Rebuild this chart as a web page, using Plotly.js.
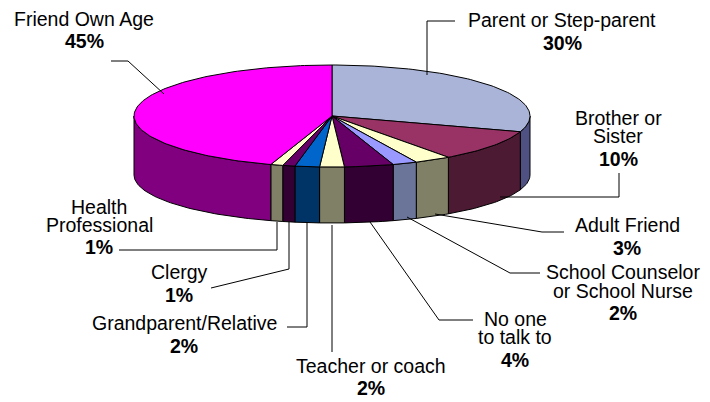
<!DOCTYPE html>
<html>
<head>
<meta charset="utf-8">
<script src="https://cdn.plot.ly/plotly-3.0.1.min.js"></script>
<style>html,body{margin:0;padding:0;background:#fff;}#chart{width:710px;height:402px;}</style>
</head>
<body>
<div id="chart"></div>
<script>
// ---- data ----
const labels = ["Parent or Step-parent", "Brother or Sister", "Adult Friend", "School Counselor or School Nurse", "No one to talk to", "Teacher or coach", "Grandparent/Relative", "Clergy", "Health Professional", "Friend Own Age"];
const values = [30, 10, 3, 2, 4, 2, 2, 1, 1, 45];
const labelLines = [["Parent or Step-parent"], ["Brother or", "Sister"], ["Adult Friend"], ["School Counselor", "or School Nurse"], ["No one", "to talk to"], ["Teacher or coach"], ["Grandparent/Relative"], ["Clergy"], ["Health", "Professional"], ["Friend Own Age"]];

// ---- styles ----
const topColors = ["#AAB4D8", "#993366", "#FFFFCC", "#9999FF", "#660066", "#FFFFCC", "#0066CC", "#660066", "#FFFFCC", "#FF00FF"];
const sideColors = ["#4F5182", "#4D1A33", "#808066", "#6B7499", "#330033", "#808066", "#003366", "#330033", "#808066", "#800080"];

// ---- geometry (pixel space) ----
const G = {cx: 332, cy: 116, rx: 198, ry: 51, cyb: 175, ryb: 48};
const labelPos = [
  {x: 562, ys: [27], py: 50},
  {x: 618, ys: [125, 143], py: 166},
  {x: 627, ys: [232], py: 255},
  {x: 623, ys: [279, 298], py: 320},
  {x: 515, ys: [326, 344], py: 367},
  {x: 371, ys: [373], py: 395},
  {x: 184, ys: [330], py: 353},
  {x: 179, ys: [279], py: 302},
  {x: 99, ys: [214, 232], py: 254},
  {x: 84, ys: [26], py: 48}
];
const leaderPaths = [
  "M427,75 L427,21 L455,21",
  "M500,197 L619,197 L619,173",
  "M435,214 L542,232 L564,232",
  "M407,217 L510,273 L540,273",
  "M370,222 L439,320 L473,320",
  "M332,225 L332,352",
  "M307,222 L307,327 L287,327",
  "M289,222 L289,269 L211,288",
  "M277,222 L277,250 L119,250",
  "M164,94 L128,61 L111,61"
];

const total = values.reduce((a, b) => a + b, 0);
function topPt(t) { return [G.cx + G.rx * Math.sin(t), G.cy - G.ry * Math.cos(t)]; }
function botPt(t) { return [G.cx + G.rx * Math.sin(t), G.cyb - G.ryb * Math.cos(t)]; }

const sideTraces = [], topTraces = [];
let cum = 0;
values.forEach((v, i) => {
  const t0 = 2 * Math.PI * cum / total;
  const t1 = 2 * Math.PI * (cum + v) / total;
  cum += v;
  // top wedge
  const xs = [G.cx], ys = [G.cy];
  const n = Math.max(4, Math.ceil((t1 - t0) / 0.02));
  for (let k = 0; k <= n; k++) { const p = topPt(t0 + (t1 - t0) * k / n); xs.push(p[0]); ys.push(p[1]); }
  xs.push(G.cx); ys.push(G.cy);
  topTraces.push({type: "scatter", mode: "lines", x: xs, y: ys, fill: "toself", fillcolor: topColors[i],
    line: {color: "#000", width: 1}, hoverinfo: "text", text: labels[i], showlegend: false});
  // front side
  const a = Math.max(t0, Math.PI / 2), b = Math.min(t1, 3 * Math.PI / 2);
  if (b > a) {
    const sx = [], sy = [];
    const m = Math.max(4, Math.ceil((b - a) / 0.02));
    for (let k = 0; k <= m; k++) { const p = topPt(a + (b - a) * k / m); sx.push(p[0]); sy.push(p[1]); }
    for (let k = m; k >= 0; k--) { const p = botPt(a + (b - a) * k / m); sx.push(p[0]); sy.push(p[1]); }
    sx.push(sx[0]); sy.push(sy[0]);
    sideTraces.push({type: "scatter", mode: "lines", x: sx, y: sy, fill: "toself", fillcolor: sideColors[i],
      line: {color: "#000", width: 1}, hoverinfo: "text", text: labels[i], showlegend: false});
  }
});

const font = "Liberation Sans, Arial, Helvetica, sans-serif";
const fs = 19.5;
const off = 0.3465 * fs;
const annotations = [];
labelLines.forEach((lines, i) => {
  const pos = labelPos[i];
  lines.forEach((ln, j) => {
    annotations.push({x: pos.x, y: pos.ys[j] - off, xref: "x", yref: "y", text: ln, showarrow: false,
      xanchor: "center", yanchor: "middle", font: {family: font, size: fs, color: "#000"}});
  });
  annotations.push({x: pos.x, y: pos.py - off, xref: "x", yref: "y", text: "<b>" + values[i] + "%</b>", showarrow: false,
    xanchor: "center", yanchor: "middle", font: {family: font, size: fs, color: "#000"}});
});

const shapes = leaderPaths.map(p => ({type: "path", path: p, xref: "x", yref: "y", line: {color: "#000", width: 1}}));

const layout = {
  width: 710, height: 402,
  margin: {l: 0, r: 0, t: 0, b: 0},
  paper_bgcolor: "#fff", plot_bgcolor: "#fff",
  xaxis: {range: [0, 710], visible: false, fixedrange: true},
  yaxis: {range: [402, 0], visible: false, fixedrange: true},
  showlegend: false,
  annotations: annotations,
  shapes: shapes
};
Plotly.newPlot("chart", sideTraces.concat(topTraces), layout, {displayModeBar: false, staticPlot: true});
</script>
</body>
</html>
